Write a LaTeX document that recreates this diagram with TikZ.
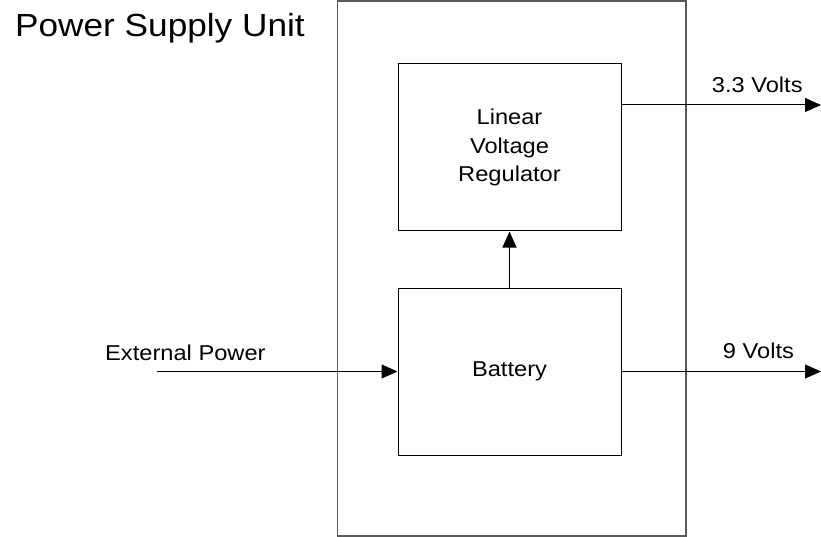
\documentclass[tikz,border=0pt]{standalone}
\usepackage{fontspec}
\setmainfont{Liberation Sans}[FakeStretch=1.1]
\usetikzlibrary{arrows.meta}
\begin{document}
\begin{tikzpicture}[x=1pt,y=-1pt,
  blockbox/.style={draw=black, line width=1pt, rectangle, inner sep=0pt,
    minimum width=223pt, minimum height=167pt, align=center,
    font=\fontsize{21.5}{28.3}\selectfont},
  outerbox/.style={draw=black!65, line width=1.4pt, rectangle, inner sep=0pt,
    minimum width=348.5pt, minimum height=535pt},
  conn/.style={draw=black, line width=1pt, -{Triangle[length=16pt,width=14pt]}},
  lbl/.style={inner sep=0pt, font=\fontsize{21.5}{25}\selectfont},
  titlelbl/.style={inner sep=0pt, font=\fontsize{32}{38}\selectfont}
]
\useasboundingbox (0,0) rectangle (821,537);
\node[outerbox] (psu) at (511.75,268.5) {};
\node[blockbox] (lvr) at (509.5,147.5) {Linear\\Voltage\\Regulator};
\node[blockbox] (bat) at (509.5,371.5) {Battery};
\coordinate (o33) at (821,105);
\coordinate (o9) at (821,371.5);
\coordinate (ext) at (157,371.5);
\draw[conn] (lvr.east |- o33) -- (o33);
\draw[conn] (bat.east) -- (o9);
\draw[conn] (ext) -- (bat.west);
\draw[conn] (bat.north) -- (lvr.south);
\node[titlelbl, anchor=base west] (title) at (15,36.7) {Power Supply Unit};
\node[lbl, anchor=base west] (l33) at (711.7,92.3) {3.3 Volts};
\node[lbl, anchor=base west] (l9) at (722.7,358.3) {9 Volts};
\node[lbl, anchor=base west] (lext) at (105,360.5) {External Power};
\end{tikzpicture}
\end{document}
